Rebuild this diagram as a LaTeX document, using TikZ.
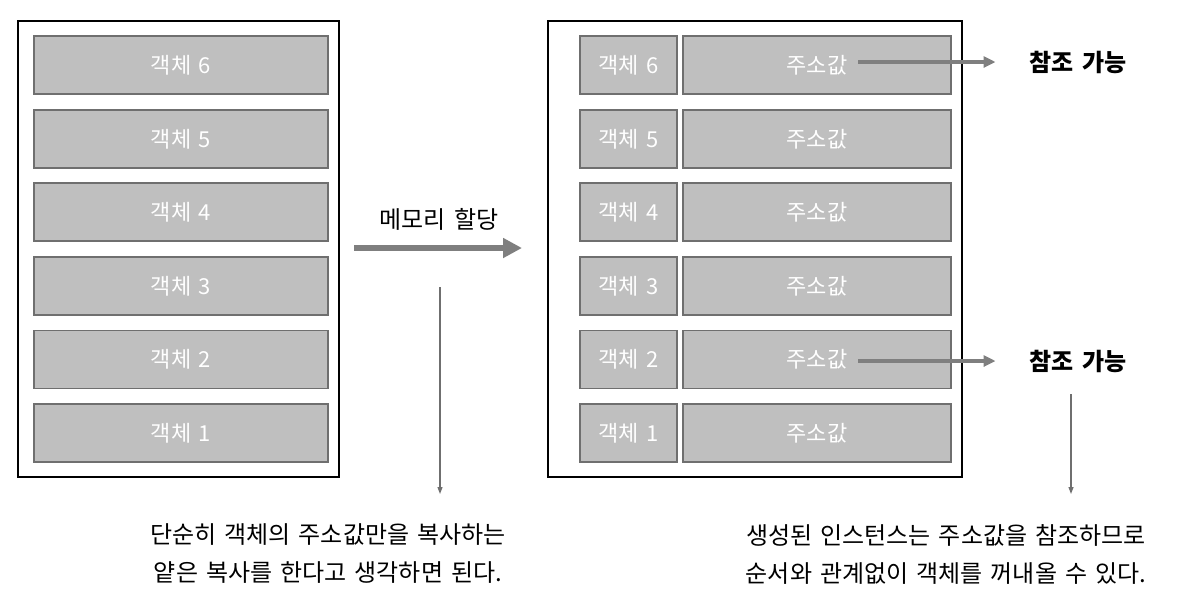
\documentclass[tikz,border=0pt]{standalone}
\usepackage{fontspec}
\setmainfont[WordSpace=1.5]{Noto Sans CJK KR}
\usetikzlibrary{arrows.meta}
\definecolor{boxfill}{HTML}{BFBFBF}
\definecolor{boxline}{HTML}{6F6F6F}
\definecolor{arrgray}{HTML}{7F7F7F}
\begin{document}
\begin{tikzpicture}[x=1pt,y=-1pt,
  outerbox/.style={draw=black,line width=1.2pt},
  cell/.style={draw=boxline,fill=boxfill,line width=1.3pt,text=white,inner sep=0pt,
    font=\fontsize{22}{24}\selectfont},
  bigarrow/.style={draw=arrgray,line width=6pt,-{Triangle[length=19pt,width=19pt]}},
  refarrow/.style={draw=arrgray,line width=3.5pt,-{Triangle[length=12pt,width=11pt]}},
  thinarrow/.style={draw=boxline,line width=1.2pt,-{Triangle[length=7pt,width=5pt]}},
  caption/.style={align=center,inner sep=0pt,font=\fontsize{24}{38}\selectfont},
  reflabel/.style={inner sep=0pt,font=\bfseries\fontsize{24}{26}\selectfont}]
\useasboundingbox (0,0) rectangle (1177,606);
% outer frames
\node[outerbox,minimum width=321pt,minimum height=456pt,inner sep=0pt] (left) at (178.5,249) {};
\node[outerbox,minimum width=414pt,minimum height=456pt,inner sep=0pt] (right) at (755,249) {};
% cells
\foreach \i/\y in {6/65,5/139,4/212,3/286,2/359.5,1/433}{
  \node[cell,minimum width=294pt,minimum height=58pt] (L\i) at (181,\y) {객체 \i};
  \node[cell,minimum width=97pt,minimum height=58pt] (S\i) at (628.5,\y) {객체 \i};
  \node[cell,minimum width=268pt,minimum height=58pt] (A\i) at (817,\y) {주소값};
}
% memory allocation arrow
\node[inner sep=0pt,font=\fontsize{24}{26}\selectfont] (alloc) at (439,219) {메모리 할당};
\coordinate (m1) at (354,248);
\coordinate (m2) at (522,248);
\draw[bigarrow] (m1) -- (m2);
% reference labels
\node[reflabel] (ref6) at (1078,62) {참조 가능};
\node[reflabel] (ref2) at (1078,361) {참조 가능};
\coordinate (p6) at (858,62);
\coordinate (p2) at (858,361);
\draw[refarrow,shorten >=34pt] (p6) -- (ref6.west);
\draw[refarrow,shorten >=34pt] (p2) -- (ref2.west);
% captions
\node[caption] (capL) at (328,554) {단순히 객체의 주소값만을 복사하는\\얕은 복사를 한다고 생각하면 된다.};
\node[caption] (capR) at (946,554) {생성된 인스턴스는 주소값을 참조하므로\\순서와 관계없이 객체를 꺼내올 수 있다.};
\coordinate (dL1) at (440,287);
\coordinate (dL2) at (440,494);
\draw[thinarrow] (dL1) -- (dL2);
\coordinate (dR1) at (1071,394);
\coordinate (dR2) at (1071,494);
\draw[thinarrow] (dR1) -- (dR2);
\end{tikzpicture}
\end{document}
